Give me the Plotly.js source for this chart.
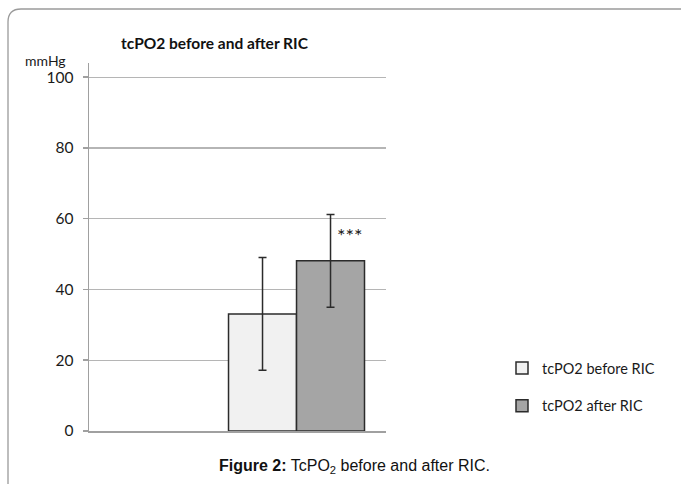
<!DOCTYPE html>
<html>
<head>
<meta charset="utf-8">
<script src="https://cdn.plot.ly/plotly-3.0.1.min.js"></script>
<style>html,body{margin:0;padding:0;background:#fff;}#chart{width:681px;height:484px;}</style>
</head>
<body>
<div id="chart"></div>
<script>
const categories = ['tcPO2'];
const seriesNames = ['tcPO2 before RIC', 'tcPO2 after RIC'];
const beforeMean = [33.1];
const beforeErr = [15.9];
const afterMean = [48.1];
const afterErr = [13.1];
const yTicks = [0, 20, 40, 60, 80, 100];

// plot area in pixels
const L = 89, R = 386, T = 63, B = 431, W = 681, H = 484;
function px(x) { return (x - L) / (R - L); }
function py(y) { return (B - y) / (B - T); }

const barLine = {color: '#2b2b2b', width: 1.5};
const errStyle = {type: 'data', visible: true, color: '#2b2b2b', thickness: 1.5, width: 4};

const traces = [
  {type: 'bar', name: seriesNames[0], x: categories, y: beforeMean,
   error_y: Object.assign({array: beforeErr}, errStyle),
   marker: {color: '#f1f1f1', line: barLine}, legendgroup: 'a'},
  {type: 'bar', name: seriesNames[1], x: categories, y: afterMean,
   error_y: Object.assign({array: afterErr}, errStyle),
   marker: {color: '#a5a5a5', line: barLine}, legendgroup: 'b'}
];

const framePath = 'M ' + px(8) + ',' + py(490) + ' L ' + px(8) + ',' + py(22) +
  ' Q ' + px(8) + ',' + py(9) + ' ' + px(21) + ',' + py(9) + ' L ' + px(690) + ',' + py(9);

const layout = {
  width: W, height: H,
  margin: {l: L, r: W - R, t: T, b: H - B, pad: 0},
  paper_bgcolor: '#ffffff', plot_bgcolor: '#ffffff',
  font: {family: 'Lato, "Open Sans", sans-serif', size: 14, color: '#1a1a1a'},
  barmode: 'group', bargap: 0.5, bargroupgap: 0,
  showlegend: true,
  legend: {x: px(502), y: py(352), xanchor: 'left', yanchor: 'top',
           font: {family: 'Lato, "Open Sans", sans-serif', size: 14.5, color: '#1a1a1a'},
           traceorder: 'grouped', tracegroupgap: 16, itemwidth: 30, bgcolor: 'rgba(0,0,0,0)'},
  xaxis: {type: 'category', range: [-0.763, 0.329], showticklabels: false, ticks: '',
          showgrid: false, showline: true, linecolor: '#a0a0a0', linewidth: 1.5, zeroline: false,
          fixedrange: true},
  yaxis: {range: [0, 104], tickvals: yTicks, ticktext: yTicks.map(String), ticks: 'outside',
          ticklen: 5, tickcolor: '#a0a0a0', tickwidth: 1.5, showline: true, linecolor: '#a0a0a0',
          linewidth: 1.5, showgrid: true, gridcolor: '#b5b5b5', gridwidth: 1.2, zeroline: false,
          ticklabelstandoff: 6, tickfont: {size: 15.5, color: '#1a1a1a'}},
  title: {text: '<b>tcPO2 before and after RIC</b>', xref: 'container', x: 121 / W, xanchor: 'left',
          yref: 'container', y: 1 - 44 / H, yanchor: 'middle', font: {size: 15.5, color: '#111'}},
  annotations: [
    {xref: 'paper', yref: 'paper', x: px(68), y: py(60), xanchor: 'right', yanchor: 'middle',
     text: 'mmHg', showarrow: false, font: {size: 14, color: '#1a1a1a'}},
    {xref: 'x', yref: 'y', x: 0.195, y: 55.4, text: '***', showarrow: false,
     font: {size: 20, color: '#1a1a1a'}},
    {xref: 'paper', yref: 'paper', x: px(354), y: py(466), xanchor: 'center', yanchor: 'middle',
     text: '<b>Figure 2:</b> TcPO<sub>2</sub> before and after RIC.', showarrow: false,
     font: {family: '"Liberation Sans", Arial, sans-serif', size: 16, color: '#111'}}
  ],
  shapes: [
    {type: 'path', xref: 'paper', yref: 'paper', path: framePath,
     line: {color: '#9a9a9a', width: 1.3}, layer: 'below'}
  ]
};

Plotly.newPlot('chart', traces, layout, {displayModeBar: false, staticPlot: true});
</script>
</body>
</html>
